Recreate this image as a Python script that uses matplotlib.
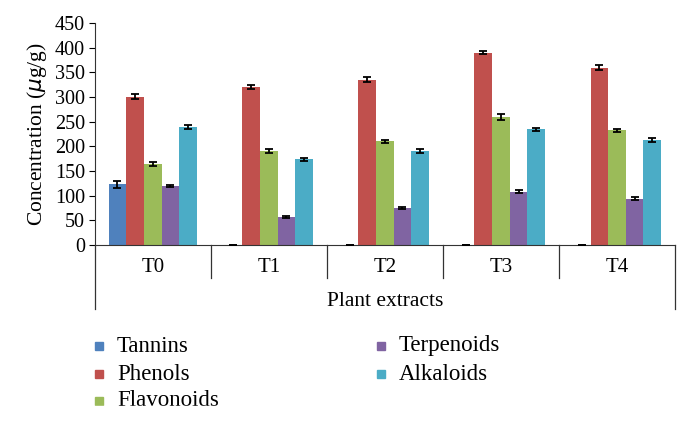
import numpy as np
import matplotlib
matplotlib.use('Agg')
import matplotlib.pyplot as plt
from matplotlib.patches import Rectangle

plt.rcParams['font.family'] = ['Liberation Serif', 'DejaVu Serif']

# data
categories = ['T0', 'T1', 'T2', 'T3', 'T4']
series = ['Tannins', 'Phenols', 'Flavonoids', 'Terpenoids', 'Alkaloids']
tannins = [123, 0, 0, 0, 0]
phenols = [301, 320, 335, 390, 360]
flavonoids = [165, 190, 210, 260, 233]
terpenoids = [119, 57, 76, 108, 94]
alkaloids = [240, 174, 190, 235, 213]
tannins_err = [7, 0, 0, 0, 0]
phenols_err = [5, 4, 5, 3, 5]
flavonoids_err = [4, 4, 3, 6, 3]
terpenoids_err = [2, 2, 2, 3, 3]
alkaloids_err = [4, 3, 4, 3, 4]

values = [tannins, phenols, flavonoids, terpenoids, alkaloids]
errors = [tannins_err, phenols_err, flavonoids_err, terpenoids_err, alkaloids_err]
colors = ['#4F81BD', '#C0504D', '#9BBB59', '#8064A2', '#4BACC6']

fig = plt.figure(figsize=(6.86, 4.21), dpi=100)
ax = fig.add_axes([0.138, 0.418, 0.846, 0.527])

x = np.arange(len(categories))
w = 0.152
for i, (vals, errs, c) in enumerate(zip(values, errors, colors)):
    pos = x + (i - 2) * w
    ax.bar(pos, vals, width=w, color=c, label=series[i], zorder=2)
    ax.errorbar(pos, vals, yerr=errs, fmt='none', ecolor='black',
                elinewidth=1.3, capsize=3, capthick=1.3, zorder=3)

ax.set_xlim(-0.5, len(categories) - 0.5)
ax.set_ylim(0, 450)
ax.set_yticks(np.arange(0, 451, 50))
ax.tick_params(axis='y', labelsize=14.5, length=4, width=0.8, direction='out', pad=3)
ax.set_xticks([])
ax.spines['top'].set_visible(False)
ax.spines['right'].set_visible(False)
ax.spines['left'].set_color('#333333')
ax.spines['bottom'].set_color('#333333')
ax.set_ylabel('Concentration ($\\mu$g/g)', fontsize=15.5, labelpad=4)

# category table below the axis
trans = ax.get_xaxis_transform()
for b in np.arange(0.5, len(categories) - 0.5, 1):
    ax.plot([b, b], [0, -0.15], transform=trans, color='#333333', lw=0.9, clip_on=False)
for b in [-0.5, len(categories) - 0.5]:
    ax.plot([b, b], [0, -0.29], transform=trans, color='#333333', lw=0.9, clip_on=False)
for xi, lab in zip(x, categories):
    ax.text(xi, -0.1, lab, transform=trans, ha='center', va='center', fontsize=15)
ax.text((len(categories) - 1) / 2, -0.255, 'Plant extracts', transform=trans,
        ha='center', va='center', fontsize=15.5)

# legend, two columns
W, H = 686.0, 421.0
col_x = [99, 381]
row_y = [346, 374, 401]
for i, (name, c) in enumerate(zip(series, colors)):
    col = 0 if i < 3 else 1
    row = i if i < 3 else i - 3
    px, py = col_x[col], row_y[row]
    fig.add_artist(Rectangle(((px - 4) / W, 1 - (py + 4) / H), 8 / W, 8 / H,
                             transform=fig.transFigure, color=c))
    fig.text((px + 18) / W, 1 - py / H, name, ha='left', va='center', fontsize=16.5)

# reference crops the last legend row
fig.add_artist(Rectangle((0, 0), 1, 15 / H, transform=fig.transFigure,
                         color='white', zorder=10))

fig.savefig('out.png', dpi=100)
